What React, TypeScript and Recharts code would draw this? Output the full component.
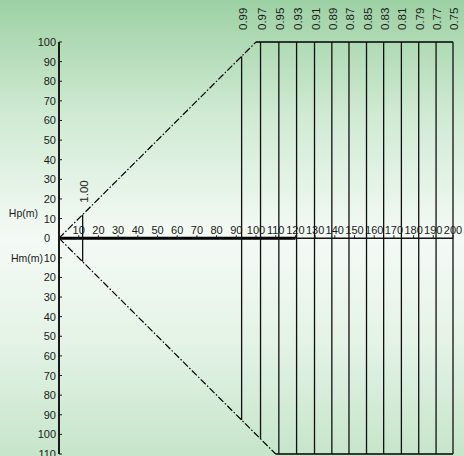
import React from 'react';
import { ComposedChart, Line, XAxis, YAxis, ReferenceLine, ReferenceDot } from 'recharts';

const FONT = '"Liberation Sans", Arial, sans-serif';
const INK = '#1a1a1a';

// Y axis ticks (negative values shown as depth Hm)
const yTicks = [-110, -100, -90, -80, -70, -60, -50, -40, -30, -20, -10, 0, 10, 20, 30, 40, 50, 60, 70, 80, 90, 100];
// X axis tick labels drawn on the zero line
const xTickValues = [10, 20, 30, 40, 50, 60, 70, 80, 90, 100, 110, 120, 130, 140, 150, 160, 170, 180, 190, 200];

// envelope lines
const upperDiag = [{ x: 0, y: 0 }, { x: 100, y: 100 }];
const upperFlat = [{ x: 100, y: 100 }, { x: 200, y: 100 }];
const lowerDiag = [{ x: 0, y: 0 }, { x: 110, y: -110 }];
const lowerFlat = [{ x: 110, y: -110 }, { x: 200, y: -110 }];

// vertical efficiency lines
const lineX = [92.7, 102.3, 111.6, 120.6, 129.7, 138.5, 147.2, 156.1, 164.8, 173.8, 182.6, 191.4, 200];
const lineTop = [92.7, 100, 100, 100, 100, 100, 100, 100, 100, 100, 100, 100, 100];
const lineBottom = [-92.7, -102.3, -110, -110, -110, -110, -110, -110, -110, -110, -110, -110, -110];
const lineLabels = ['0.99', '0.97', '0.95', '0.93', '0.91', '0.89', '0.87', '0.85', '0.83', '0.81', '0.79', '0.77', '0.75'];

const firstLineX = 12;
const firstLineTop = 12;
const firstLineBottom = -12;
const firstLineLabel = '1.00';

// zero axis segments
const axisThick = [{ x: 0, y: 0 }, { x: 120, y: 0 }];
const axisThin = [{ x: 120, y: 0 }, { x: 200, y: 0 }];

const hpLabel = { x: 0, y: 13, text: 'Hp(m)' };
const hmLabel = { x: 0, y: -10, text: 'Hm(m)' };

const TopTick = (p: any) => {
  const i = lineX.indexOf(p.payload.value);
  const tx = p.x + 1;
  const ty = p.y - 12;
  return (
    <text x={tx} y={ty} transform={`rotate(-90 ${tx} ${ty})`} textAnchor="start" dominantBaseline="central"
      fontSize={11.5} fontFamily={FONT} fill={INK}>{i >= 0 ? lineLabels[i] : ''}</text>
  );
};

const LeftTick = (p: any) => {
  const v = p.payload.value;
  return (
    <text x={v === 0 ? p.x - 6 : p.x} y={p.y} textAnchor="end" dominantBaseline="central"
      fontSize={11} fontFamily={FONT} fill={INK}>{Math.abs(v)}</text>
  );
};

export default function App() {
  return (
    <div style={{
      position: 'absolute', left: 0, top: 0, width: 464, height: 456,
      background: 'linear-gradient(to bottom, #9dd1a4 0%, #d0ead3 25%, #f4faf5 52%, #e4f3e6 75%, #c6e5ca 100%)',
    }}>
      <ComposedChart width={464} height={456} margin={{ top: 0, right: 11, bottom: 2, left: 0 }}>
        <XAxis type="number" dataKey="x" orientation="top" domain={[0, 200]} ticks={lineX} interval={0}
          axisLine={false} tickLine={false} tickSize={0} tickMargin={0} height={42} tick={<TopTick />} />
        <YAxis type="number" dataKey="y" domain={[-110, 100]} ticks={yTicks} interval={0} width={59}
          axisLine={{ stroke: INK, strokeWidth: 2 }} tickLine={{ stroke: INK, strokeWidth: 1 }}
          tickSize={-3} tickMargin={6} tick={<LeftTick />} />

        <Line data={axisThick} dataKey="y" stroke="#000" strokeWidth={3} dot={false} activeDot={false} isAnimationActive={false} />
        <Line data={axisThin} dataKey="y" stroke="#111" strokeWidth={1.4} dot={false} activeDot={false} isAnimationActive={false} />

        {xTickValues.map((v) => (
          <ReferenceDot key={'xt' + v} x={v} y={0} r={1} ifOverflow="visible"
            shape={(p: any) => (
              <g>
                <line x1={p.cx} y1={p.cy} x2={p.cx} y2={p.cy - 3} stroke={INK} strokeWidth={1} />
                <text x={p.cx} y={p.cy - 4} textAnchor="middle" fontSize={11} fontFamily={FONT} fill={INK}>{v}</text>
              </g>
            )} />
        ))}

        <Line data={upperDiag} dataKey="y" stroke="#000" strokeWidth={1.2} strokeDasharray="7 2 1.5 2" dot={false} activeDot={false} isAnimationActive={false} />
        <Line data={lowerDiag} dataKey="y" stroke="#000" strokeWidth={1.2} strokeDasharray="7 2 1.5 2" dot={false} activeDot={false} isAnimationActive={false} />
        <Line data={upperFlat} dataKey="y" stroke="#000" strokeWidth={1.3} dot={false} activeDot={false} isAnimationActive={false} />
        <Line data={lowerFlat} dataKey="y" stroke="#000" strokeWidth={1.3} dot={false} activeDot={false} isAnimationActive={false} />

        <ReferenceLine segment={[{ x: firstLineX, y: firstLineTop }, { x: firstLineX, y: firstLineBottom }]}
          stroke="#111" strokeWidth={1.3} ifOverflow="visible" />
        <ReferenceDot x={firstLineX} y={firstLineTop} r={1} ifOverflow="visible"
          shape={(p: any) => {
            const tx = p.cx + 1;
            const ty = p.cy - 12;
            return (
              <text x={tx} y={ty} transform={`rotate(-90 ${tx} ${ty})`} textAnchor="start" dominantBaseline="central"
                fontSize={11.5} fontFamily={FONT} fill={INK}>{firstLineLabel}</text>
            );
          }} />

        {lineX.map((x, i) => (
          <ReferenceLine key={'vl' + i} segment={[{ x, y: lineTop[i] }, { x, y: lineBottom[i] }]}
            stroke="#111" strokeWidth={1.3} ifOverflow="visible" />
        ))}

        {[hpLabel, hmLabel].map((l, i) => (
          <ReferenceDot key={'yl' + i} x={l.x} y={l.y} r={1} ifOverflow="visible"
            shape={(p: any) => (
              <text x={p.cx - (i === 0 ? 21 : 16)} y={p.cy} textAnchor="end" dominantBaseline="central"
                fontSize={10.5} fontFamily={FONT} fill={INK}>{l.text}</text>
            )} />
        ))}
      </ComposedChart>
    </div>
  );
}
